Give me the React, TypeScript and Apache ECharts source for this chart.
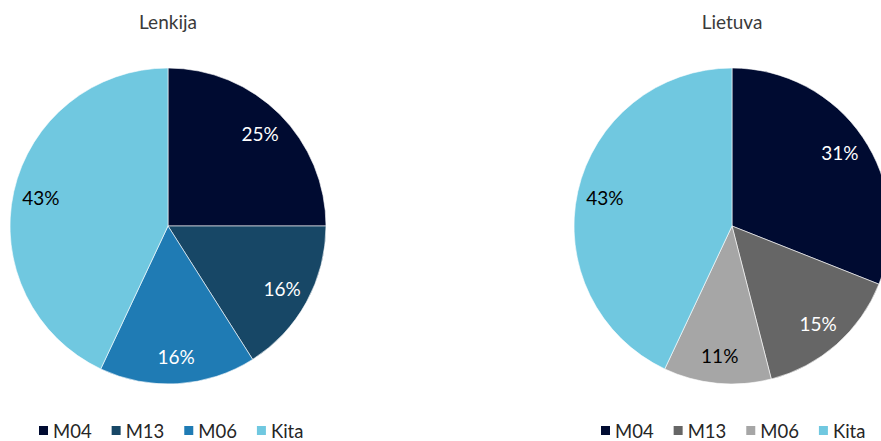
import React, { useEffect, useRef } from "react";
import * as echarts from "echarts";

const categories = ["M04", "M13", "M06", "Kita"];
const polandValues = [25, 16, 16, 43];
const lithuaniaValues = [31, 15, 11, 43];
const polandColors = ["#000b31", "#174766", "#1f7bb4", "#70c8e0"];
const lithuaniaColors = ["#000b31", "#666666", "#a6a6a6", "#70c8e0"];
const polandLabelColors = ["#ffffff", "#ffffff", "#ffffff", "#000000"];
const lithuaniaLabelColors = ["#ffffff", "#ffffff", "#000000", "#000000"];

const FONT = "Lato, 'Open Sans', sans-serif";
const R = 158;

function buildOption(
  title: string,
  values: number[],
  colors: string[],
  labelColors: string[],
  legendLeft: number
) {
  const data = categories.map((name, i) => ({
    name,
    value: values[i],
    itemStyle: { color: colors[i] },
  }));
  const labelData = categories.map((name, i) => ({
    name,
    value: values[i],
    label: { color: labelColors[i] },
  }));
  return {
    animation: false,
    title: {
      text: title,
      left: "center",
      top: 12,
      padding: 0,
      textStyle: {
        fontFamily: FONT,
        fontSize: 19,
        fontWeight: "normal",
        color: "#3a3a3a",
      },
    },
    legend: {
      data: categories,
      left: legendLeft,
      top: 421,
      padding: 0,
      itemWidth: 11,
      itemHeight: 11,
      itemGap: 18,
      icon: "rect",
      textStyle: {
        fontFamily: FONT,
        fontSize: 18.5,
        lineHeight: 19,
        color: "#262626",
        padding: [0, 0, 0, -1],
      },
    },
    series: [
      {
        type: "pie",
        center: [168, 226],
        radius: [0, R],
        startAngle: 90,
        clockwise: true,
        label: { show: false },
        labelLine: { show: false },
        itemStyle: { borderColor: "#ffffff", borderWidth: 0.6 },
        emphasis: { disabled: true },
        data,
      },
      {
        type: "pie",
        center: [168, 226],
        radius: [R * 0.612, R],
        startAngle: 90,
        clockwise: true,
        silent: true,
        z: 5,
        itemStyle: { color: "rgba(0,0,0,0)", borderWidth: 0 },
        label: {
          show: true,
          position: "inside",
          formatter: "{c}%",
          fontFamily: FONT,
          fontSize: 19,
        },
        labelLine: { show: false },
        emphasis: { disabled: true },
        data: labelData,
      },
    ],
  };
}

function PieChart(props: {
  left: number;
  title: string;
  values: number[];
  colors: string[];
  labelColors: string[];
  legendLeft: number;
}) {
  const ref = useRef<HTMLDivElement>(null);
  useEffect(() => {
    if (!ref.current) return;
    const chart = echarts.init(ref.current, undefined, { renderer: "svg" });
    chart.setOption(
      buildOption(props.title, props.values, props.colors, props.labelColors, props.legendLeft)
    );
    return () => chart.dispose();
  }, []);
  return (
    <div
      ref={ref}
      style={{ position: "absolute", left: props.left, top: 0, width: 336, height: 441 }}
    />
  );
}

export default function App() {
  return (
    <div
      style={{
        position: "fixed",
        left: 0,
        top: 0,
        width: 881,
        height: 441,
        overflow: "hidden",
        background: "#ffffff",
      }}
    >
      <PieChart
        left={0}
        title="Lenkija"
        values={polandValues}
        colors={polandColors}
        labelColors={polandLabelColors}
        legendLeft={37}
      />
      <PieChart
        left={564}
        title="Lietuva"
        values={lithuaniaValues}
        colors={lithuaniaColors}
        labelColors={lithuaniaLabelColors}
        legendLeft={35}
      />
    </div>
  );
}
